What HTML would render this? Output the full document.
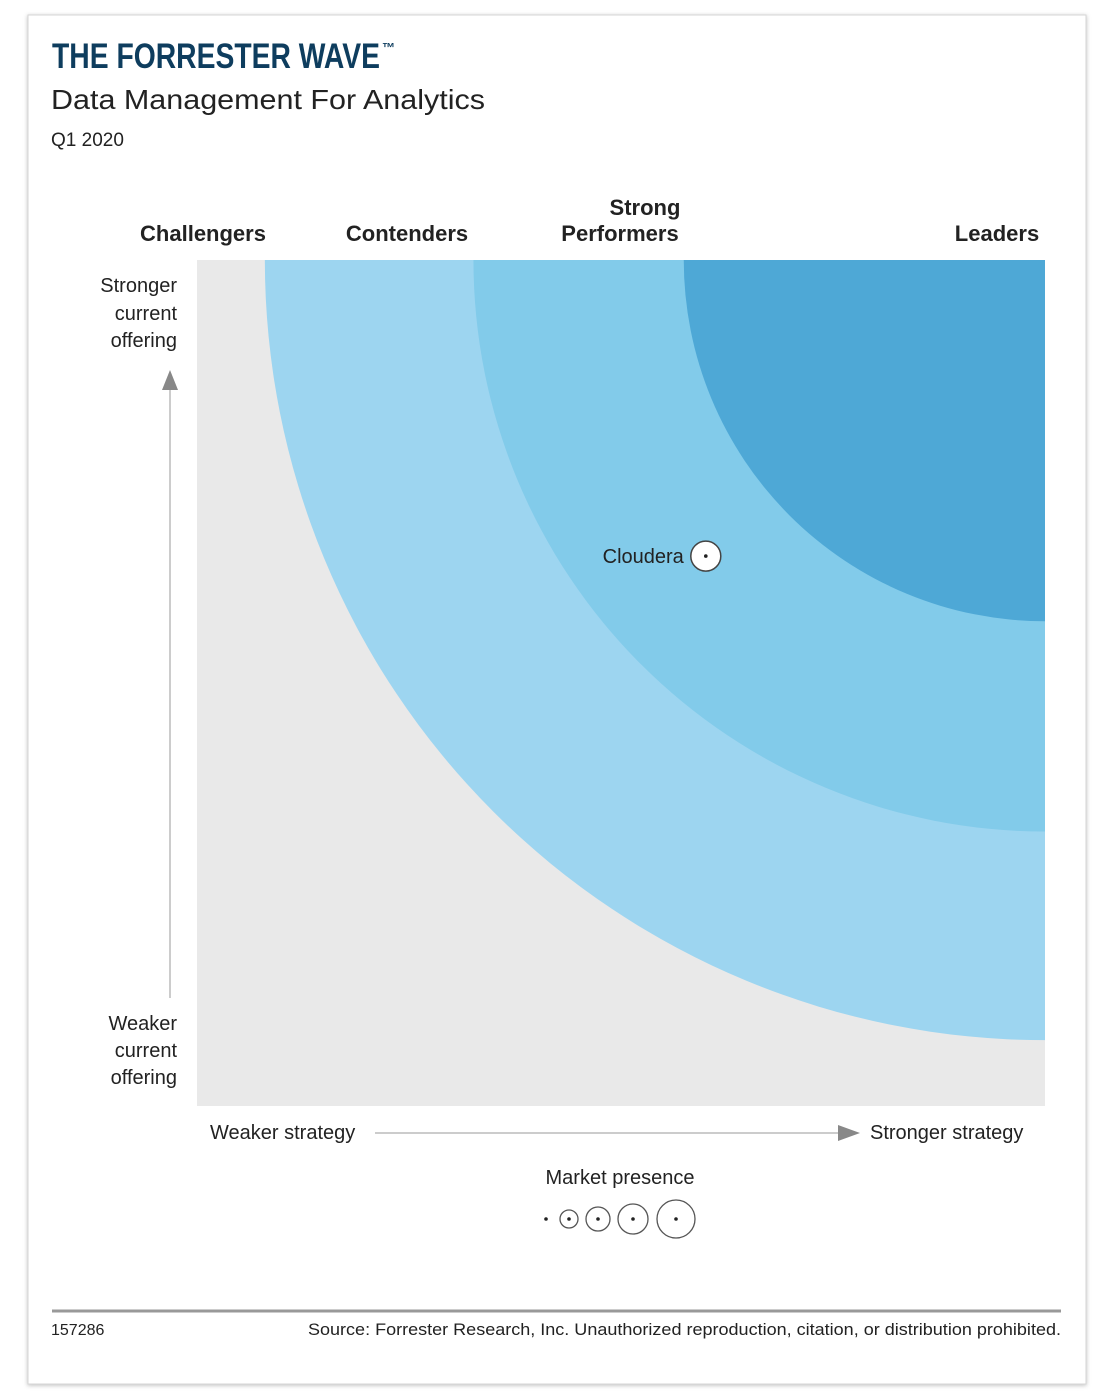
<!DOCTYPE html>
<html><head><meta charset="utf-8"><style>
html,body{margin:0;padding:0;background:#fff;}
svg{display:block;font-family:"Liberation Sans",sans-serif;}
</style></head><body>
<svg id="chart" width="1109" height="1400" viewBox="0 0 1109 1400">
<defs><filter id="sh" x="-5%" y="-5%" width="110%" height="110%"><feDropShadow dx="0" dy="1" stdDeviation="2" flood-color="#000" flood-opacity="0.25"/></filter></defs>
<rect x="28" y="15" width="1058" height="1369" fill="#fff" stroke="#d6d6d6" filter="url(#sh)"/>
<text x="52" y="68" font-weight="bold" font-size="35" fill="#0e3d5e" textLength="328" lengthAdjust="spacingAndGlyphs">THE FORRESTER WAVE</text>
<text x="382" y="52" font-weight="bold" font-size="13" fill="#0e3d5e">™</text>
<text x="51" y="109" font-size="28" fill="#222" textLength="434" lengthAdjust="spacingAndGlyphs">Data Management For Analytics</text>
<text x="51" y="146" font-size="19" fill="#222">Q1 2020</text>
<g font-weight="bold" font-size="22" fill="#222" text-anchor="middle">
<text x="203" y="241">Challengers</text>
<text x="407" y="241">Contenders</text>
<text x="620" y="215"><tspan x="645">Strong</tspan><tspan x="620" dy="26">Performers</tspan></text>
<text x="997" y="241">Leaders</text>
</g>
<g id="plot"></g>
<g font-size="20" fill="#222" text-anchor="end">
<text><tspan x="177" y="292">Stronger</tspan><tspan x="177" y="320">current</tspan><tspan x="177" y="347">offering</tspan></text>
<text><tspan x="177" y="1030">Weaker</tspan><tspan x="177" y="1057">current</tspan><tspan x="177" y="1084">offering</tspan></text>
</g>
<line x1="170" y1="390" x2="170" y2="998" stroke="#ccc" stroke-width="2"/>
<polygon points="162,390 178,390 170,370" fill="#888"/>
<text x="210" y="1139" font-size="20" fill="#222">Weaker strategy</text>
<text x="870" y="1139" font-size="20" fill="#222">Stronger strategy</text>
<line x1="375" y1="1133" x2="842" y2="1133" stroke="#ccc" stroke-width="2"/>
<polygon points="838,1125 838,1141 860,1133" fill="#888"/>
<text x="620" y="1184" font-size="20" fill="#222" text-anchor="middle">Market presence</text>
<g id="legend"></g>
<line x1="52" y1="1311" x2="1061" y2="1311" stroke="#999" stroke-width="3"/>
<text x="51" y="1335" font-size="16" fill="#222">157286</text>
<text x="308" y="1335" font-size="17" fill="#222" textLength="753" lengthAdjust="spacingAndGlyphs">Source: Forrester Research, Inc. Unauthorized reproduction, citation, or distribution prohibited.</text>
</svg>
<script>
const vendorNames = ["Cloudera"];
const strategyScores = [3.0];
const offeringScores = [3.25];
const presenceLevels = [3];
const bandNames = ["contenders","strong-performers","leaders"];
const bandRadii = [4.6, 3.37, 2.13];
const bandColors = ["#9dd5f0","#82cbea","#4ea8d6"];
const legendLevels = [0,1,2,3,4];

const NS="http://www.w3.org/2000/svg";
const X0=197,X1=1045,Y0=1106,Y1=260,MAX=5;
const xs=v=>X0+(v/MAX)*(X1-X0);
const ys=v=>Y0-(v/MAX)*(Y0-Y1);
const rs=v=>v/MAX*(X1-X0);
const presR=[0,9,12,15,19];
function mk(tag,attrs,parent){const e=document.createElementNS(NS,tag);for(const k in attrs)e.setAttribute(k,attrs[k]);parent.appendChild(e);return e;}
const plot=document.getElementById('plot');
const cp=mk('clipPath',{id:'pc'},plot);
mk('rect',{x:X0,y:Y1,width:X1-X0,height:Y0-Y1},cp);
const bg=mk('rect',{x:X0,y:Y1,width:X1-X0,height:Y0-Y1,fill:'#e9e9e9'},plot);


const g=mk('g',{'clip-path':'url(#pc)'},plot);
bandRadii.forEach((r,i)=>{
  const c=mk('circle',{cx:xs(MAX),cy:ys(MAX),r:rs(r),fill:bandColors[i]},g);
  
  
});
vendorNames.forEach((n,i)=>{
  const cx=xs(strategyScores[i]),cy=ys(offeringScores[i]),r=presR[presenceLevels[i]];
  const c=mk('circle',{cx:cx,cy:cy,r:r,fill:'#fff',stroke:'#444','stroke-width':1.5},plot);
  
  
  const d=mk('circle',{cx:cx,cy:cy,r:1.8,fill:'#222'},plot);
  
  
  const t=mk('text',{x:cx-r-7,y:cy+7,'font-size':20,fill:'#222','text-anchor':'end'},plot);
  t.textContent=n;
  
  
});
const lg=document.getElementById('legend');
const lx=[546,569,598,633,676];
legendLevels.forEach((l,i)=>{
  if(presR[l]>0){
    const c=mk('circle',{cx:lx[i],cy:1219,r:presR[l],fill:'#fff',stroke:'#555','stroke-width':1.3},lg);
    
    
  }
  const d=mk('circle',{cx:lx[i],cy:1219,r:1.8,fill:'#222'},lg);
  
  
});
</script>
</body></html>
